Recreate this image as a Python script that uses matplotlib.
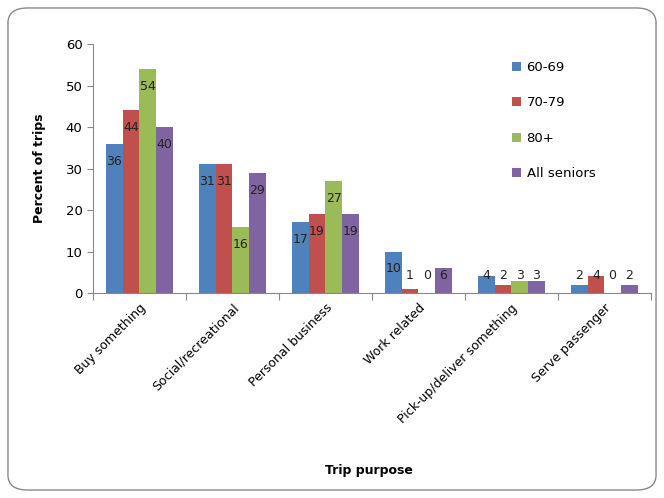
import matplotlib
matplotlib.use("Agg")
import matplotlib.pyplot as plt
from matplotlib.patches import FancyBboxPatch
import numpy as np

categories = ["Buy something", "Social/recreational", "Personal business",
              "Work related", "Pick-up/deliver something", "Serve passenger"]
series_names = ["60-69", "70-79", "80+", "All seniors"]
v_60_69 = [36, 31, 17, 10, 4, 2]
v_70_79 = [44, 31, 19, 1, 2, 4]
v_80 = [54, 16, 27, 0, 3, 0]
v_all = [40, 29, 19, 6, 3, 2]
series = [v_60_69, v_70_79, v_80, v_all]
colors = ["#4F81BD", "#C0504D", "#9BBB59", "#8064A2"]

plt.rcParams['font.family'] = ['DejaVu Sans']
fig = plt.figure(figsize=(6.64, 4.98), dpi=100)
ax = fig.add_axes([0.14, 0.4116, 0.84, 0.50])

x = np.arange(len(categories))
w = 0.18
for i, (vals, c, name) in enumerate(zip(series, colors, series_names)):
    pos = x + (i - 1.5) * w
    ax.bar(pos, vals, width=w, color=c, label=name)
    for p, v in zip(pos, vals):
        ax.text(p, max(v - 4.2, 4.3), str(v), ha='center', va='center',
                fontsize=9, color='#222222')

ax.set_xlim(-0.5, len(categories) - 0.5)
ax.set_ylim(0, 60)
ax.set_yticks(range(0, 61, 10))
ax.set_xticks(np.arange(-0.5, len(categories), 1.0), minor=False)
ax.set_xticklabels([])
ax.set_xticks(x, minor=True)
ax.set_xticklabels(categories, minor=True, rotation=45, ha='right',
                   rotation_mode='anchor', fontsize=9)
ax.tick_params(axis='x', which='minor', length=0, pad=6)
ax.tick_params(axis='x', which='major', length=5, color='#888888')
ax.tick_params(axis='y', length=4, color='#888888', labelsize=9.5)
for s in ['top', 'right']:
    ax.spines[s].set_visible(False)
for s in ['left', 'bottom']:
    ax.spines[s].set_color('#888888')

ax.set_ylabel("Percent of trips", fontweight='bold', fontsize=9)
ax.yaxis.set_label_coords(-0.085, 0.5)
fig.text(0.555, 0.055, "Trip purpose", ha='center', va='center',
         fontweight='bold', fontsize=9)

leg = ax.legend(loc='upper left', bbox_to_anchor=(0.73, 0.98), frameon=False,
                fontsize=9.5, handlelength=0.7, handleheight=0.7,
                labelspacing=1.7, handletextpad=0.4)

border = FancyBboxPatch((0.012, 0.016), 0.976, 0.968,
                        boxstyle="round,pad=0,rounding_size=0.03",
                        transform=fig.transFigure, fill=False,
                        edgecolor='#888888', linewidth=1.0)
fig.patches.append(border)

fig.savefig("out.png", dpi=100)
